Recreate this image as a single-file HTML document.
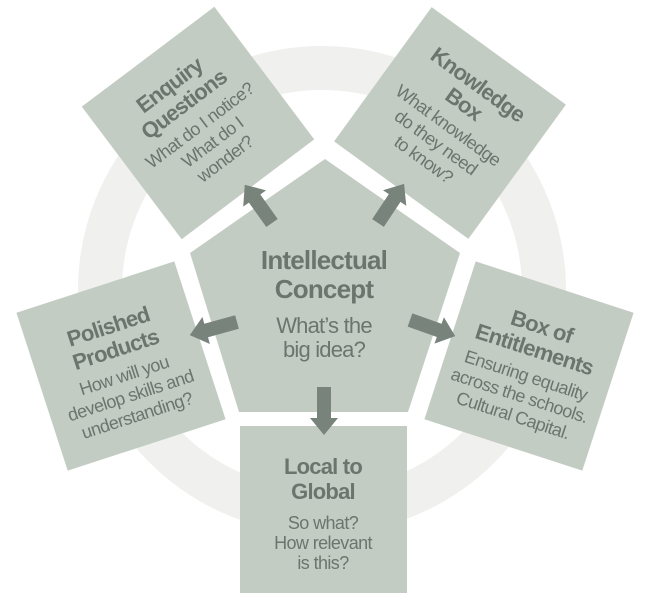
<!DOCTYPE html>
<html><head><meta charset="utf-8"><style>
html,body{margin:0;padding:0;background:#fff}
svg{display:block}
text{font-family:"Liberation Sans",sans-serif;fill:#6c746e;text-anchor:middle}
.t{font-weight:bold;font-size:22px;letter-spacing:-0.8px}
.b{font-size:18px;letter-spacing:-0.6px}
</style></head><body>
<svg width="648" height="606" viewBox="0 0 648 606" xmlns="http://www.w3.org/2000/svg">
<circle cx="322" cy="290" r="222" fill="none" stroke="#f0f0ee" stroke-width="44"/>
<polygon points="325,159 190,253 239,412 408,412 460,253" fill="#c3ccc3"/>
<g fill="#c3ccc3">
<rect x="-83" y="-83" width="166" height="166" transform="translate(198,123) rotate(-37)"/>
<rect x="-83" y="-83" width="166" height="166" transform="translate(450,123) rotate(36)"/>
<rect x="-83" y="-83" width="166" height="166" transform="translate(121,366) rotate(-18)"/>
<rect x="-83" y="-83" width="166" height="166" transform="translate(529,366) rotate(18)"/>
<rect x="240" y="426" width="167" height="167"/>
</g>
<g fill="#78837c">
<polygon points="0,-7 31,-7 31,-14 48,0 31,14 31,7 0,7" transform="translate(324,387) rotate(90)"/>
<polygon points="0,-7 30,-7 30,-14 47,0 30,14 30,7 0,7" transform="translate(272,223) rotate(-125.4)"/>
<polygon points="0,-7 30,-7 30,-14 47,0 30,14 30,7 0,7" transform="translate(378,223) rotate(-56.3)"/>
<polygon points="0,-7 32,-7 32,-14 49,0 32,14 32,7 0,7" transform="translate(237,322) rotate(164.5)"/>
<polygon points="0,-7 31,-7 31,-14 48,0 31,14 31,7 0,7" transform="translate(410,320) rotate(19.6)"/>
</g>
<text x="324" y="269" style="font-weight:bold;font-size:26px;letter-spacing:-0.8px">Intellectual</text>
<text x="324" y="298" style="font-weight:bold;font-size:26px;letter-spacing:-0.8px">Concept</text>
<text x="324" y="333" style="font-size:22px;letter-spacing:-0.8px">What’s the</text>
<text x="324" y="357" style="font-size:22px;letter-spacing:-0.8px">big idea?</text>

<g transform="translate(198,123) rotate(-37)">
<text class="t" y="-40">Enquiry</text><text class="t" y="-16">Questions</text>
<text class="b" y="9">What do I notice?</text><text class="b" y="30">What do I</text><text class="b" y="51">wonder?</text>
</g>
<g transform="translate(450,123) rotate(36)">
<text class="t" y="-40">Knowledge</text><text class="t" y="-16">Box</text>
<text class="b" y="9">What knowledge</text><text class="b" y="30">do they need</text><text class="b" y="51">to know?</text>
</g>
<g transform="translate(121,366) rotate(-18)">
<text class="t" y="-34">Polished</text><text class="t" y="-10">Products</text>
<text class="b" y="16">How will you</text><text class="b" y="37">develop skills and</text><text class="b" y="58">understanding?</text>
</g>
<g transform="translate(529,366) rotate(18)">
<text class="t" y="-34">Box of</text><text class="t" y="-10">Entitlements</text>
<text class="b" y="16">Ensuring equality</text><text class="b" y="37">across the schools.</text><text class="b" y="58">Cultural Capital.</text>
</g>
<g transform="translate(323,510)">
<text class="t" y="-36">Local to</text><text class="t" y="-11">Global</text>
<text class="b" y="19">So what?</text><text class="b" y="39">How relevant</text><text class="b" y="59">is this?</text>
</g>
</svg>
</body></html>
